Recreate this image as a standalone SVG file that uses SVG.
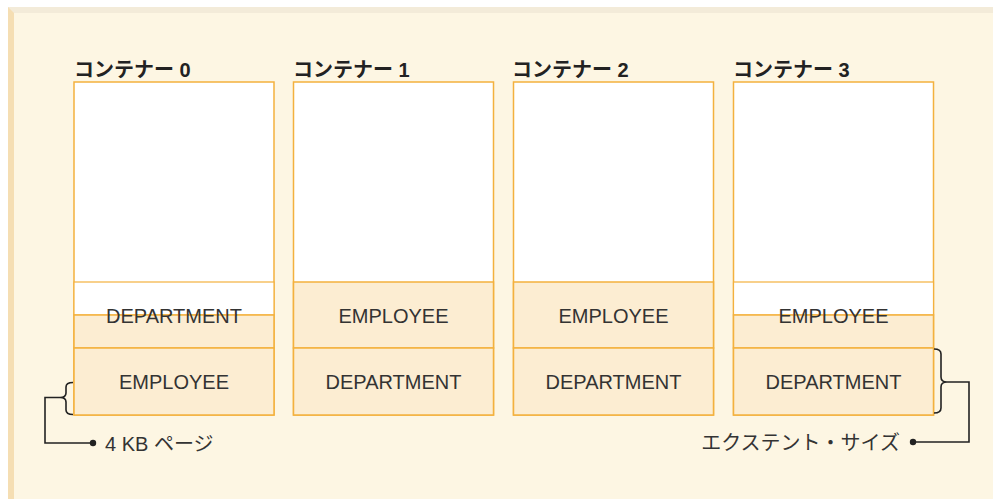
<svg xmlns="http://www.w3.org/2000/svg" width="993" height="499" viewBox="0 0 993 499">
  <style>
    .title{font-family:"Liberation Sans","Noto Sans CJK JP",sans-serif;font-size:20px;font-weight:bold;fill:#222}
    .lbl{font-family:"Liberation Sans","Noto Sans CJK JP",sans-serif;font-size:20px;fill:#333;text-anchor:middle}
    .note{font-family:"Liberation Sans","Noto Sans CJK JP",sans-serif;font-size:20px;fill:#333}
    .box{fill:#ffffff;stroke:#f3b13e;stroke-width:1.5}
    .tan{fill:#fcedd2;stroke:#f3b13e;stroke-width:1.5}
    .wht{fill:#ffffff;stroke:#f3b13e;stroke-width:1.2}
    .conn{fill:none;stroke:#222;stroke-width:1.6}
  </style>
  <rect x="0" y="0" width="993" height="499" fill="#ffffff"/>
  <rect x="8" y="7" width="985" height="492" fill="#fdf6e3"/>
  <rect x="8" y="7" width="985" height="6" fill="#f3ebd9"/>
  <polygon points="8,7 14,13 14,499 8,499" fill="#f5deb3"/>

  <g id="c0">
    <text class="title" x="74" y="77">コンテナー 0</text>
    <rect class="box" x="74" y="82" width="200" height="333"/>
    <rect class="wht" x="74" y="282" width="200" height="33"/>
    <rect class="tan" x="74" y="315" width="200" height="33"/>
    <rect class="tan" x="74" y="348" width="200" height="67"/>
    <text class="lbl" x="174" y="323">DEPARTMENT</text>
    <text class="lbl" x="174" y="389">EMPLOYEE</text>
  </g>
  <g id="c1">
    <text class="title" x="293" y="77">コンテナー 1</text>
    <rect class="box" x="293.5" y="82" width="200" height="333"/>
    <rect class="tan" x="293.5" y="282" width="200" height="66"/>
    <rect class="tan" x="293.5" y="348" width="200" height="67"/>
    <text class="lbl" x="393.5" y="323">EMPLOYEE</text>
    <text class="lbl" x="393.5" y="389">DEPARTMENT</text>
  </g>
  <g id="c2">
    <text class="title" x="512" y="77">コンテナー 2</text>
    <rect class="box" x="513.5" y="82" width="200" height="333"/>
    <rect class="tan" x="513.5" y="282" width="200" height="66"/>
    <rect class="tan" x="513.5" y="348" width="200" height="67"/>
    <text class="lbl" x="613.5" y="323">EMPLOYEE</text>
    <text class="lbl" x="613.5" y="389">DEPARTMENT</text>
  </g>
  <g id="c3">
    <text class="title" x="733" y="77">コンテナー 3</text>
    <rect class="box" x="733.5" y="82" width="200" height="333"/>
    <rect class="wht" x="733.5" y="282" width="200" height="33"/>
    <rect class="tan" x="733.5" y="315" width="200" height="33"/>
    <rect class="tan" x="733.5" y="348" width="200" height="67"/>
    <text class="lbl" x="833.5" y="323">EMPLOYEE</text>
    <text class="lbl" x="833.5" y="389">DEPARTMENT</text>
  </g>

  <g id="connectors">
    <path class="conn" d="M73,382.5 Q66,382.5 66,387 L66,393 Q66,397.5 60,397.5 Q66,397.5 66,402 L66,410 Q66,414.5 73,414.5"/>
    <path class="conn" d="M60,397.5 H45 V443 H93"/>
    <circle cx="93" cy="443" r="3.2" fill="#222"/>
    <path class="conn" d="M934,349 Q941,349 941,354 L941,377 Q941,382 947,382 Q941,382 941,387 L941,408 Q941,413 934,413"/>
    <path class="conn" d="M947,382 H969 V442 H913"/>
    <circle cx="913" cy="442" r="3.2" fill="#222"/>
  </g>
  <g id="notes">
    <text class="note" x="105" y="451">4 KB ページ</text>
    <text class="note" x="900" y="450" text-anchor="end">エクステント・サイズ</text>
  </g>
</svg>
